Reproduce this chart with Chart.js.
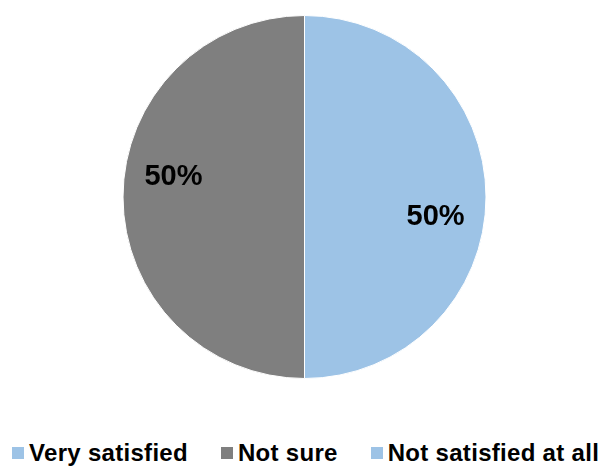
<!DOCTYPE html>
<html>
<head>
<meta charset="utf-8">
<script src="https://cdn.jsdelivr.net/npm/chart.js@4/dist/chart.umd.min.js"></script>
<style>
  html, body { margin: 0; padding: 0; background: #fff; }
  body { width: 609px; height: 469px; position: relative; overflow: hidden; }
  #wrap { position: absolute; left: 0; top: 0; width: 609px; height: 394px; }
  #legend { position: absolute; left: 12px; top: 439px; display: flex; align-items: center;
            font: bold 24px "Liberation Sans", Arial, sans-serif; letter-spacing: 0.3px;
            color: #000; white-space: nowrap; }
  .item { display: flex; align-items: center; margin-right: 33px; }
  .box { width: 12px; height: 12px; margin-right: 5px; }
</style>
</head>
<body>
<div id="wrap"><canvas id="c"></canvas></div>
<div id="legend"></div>
<script>
const categories = ["Very satisfied", "Not sure", "Not satisfied at all"];
const shares = [50, 50, 0];
const sliceColors = ["#9DC3E6", "#7F7F7F", "#9DC3E6"];

// Percentage labels drawn inside each non-empty slice
const sliceLabels = {
  id: "sliceLabels",
  afterDatasetsDraw(chart) {
    const ctx = chart.ctx;
    const meta = chart.getDatasetMeta(0);
    const total = shares.reduce((a, b) => a + b, 0);
    ctx.save();
    ctx.font = "bold 29px 'Liberation Sans', Arial, sans-serif";
    ctx.fillStyle = "#000";
    ctx.textAlign = "center";
    ctx.textBaseline = "middle";
    meta.data.forEach((arc, i) => {
      if (!shares[i]) return;
      const p = arc.getProps(["x", "y", "startAngle", "endAngle", "outerRadius"], true);
      const mid = (p.startAngle + p.endAngle) / 2 + 8.5 * Math.PI / 180;
      const r = p.outerRadius * 0.73;
      const txt = Math.round(shares[i] / total * 100) + "%";
      ctx.fillText(txt, p.x + Math.cos(mid) * r, p.y + Math.sin(mid) * r);
    });
    ctx.restore();
  }
};

new Chart(document.getElementById("c"), {
  type: "pie",
  data: {
    labels: categories,
    datasets: [{
      data: shares,
      backgroundColor: sliceColors,
      borderColor: "#ffffff",
      borderWidth: 1
    }]
  },
  options: {
    responsive: true,
    maintainAspectRatio: false,
    animation: false,
    layout: { padding: { top: 15, bottom: 15 } },
    plugins: { legend: { display: false }, tooltip: { enabled: false } }
  },
  plugins: [sliceLabels]
});

const legend = document.getElementById("legend");
categories.forEach((name, i) => {
  const item = document.createElement("div");
  item.className = "item";
  const box = document.createElement("span");
  box.className = "box";
  box.style.background = sliceColors[i];
  const label = document.createElement("span");
  label.textContent = name;
  item.appendChild(box);
  item.appendChild(label);
  legend.appendChild(item);
});
</script>
</body>
</html>
